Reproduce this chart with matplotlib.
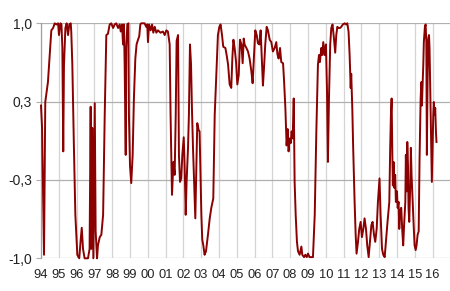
import matplotlib
matplotlib.use("Agg")
import matplotlib.pyplot as plt

# time (decimal years) and correlation values
t = [
    1994.00, 1994.06, 1994.17, 1994.24, 1994.39, 1994.49, 1994.58, 1994.68, 1994.77, 1994.87,
    1994.96, 1995.01, 1995.09, 1995.15, 1995.20, 1995.25, 1995.29, 1995.37, 1995.44, 1995.52,
    1995.59, 1995.67, 1995.70, 1995.76, 1995.85, 1995.93, 1996.04, 1996.15, 1996.22, 1996.29,
    1996.36, 1996.45, 1996.64, 1996.73, 1996.79, 1996.83, 1996.88, 1996.94, 1997.02, 1997.07,
    1997.15, 1997.20, 1997.30, 1997.39, 1997.49, 1997.58, 1997.67, 1997.76, 1997.86, 1997.95,
    1998.05, 1998.14, 1998.23, 1998.33, 1998.42, 1998.48, 1998.55, 1998.61, 1998.66, 1998.70,
    1998.76, 1998.79, 1998.85, 1998.91, 1998.94, 1999.00, 1999.07, 1999.15, 1999.22, 1999.30,
    1999.37, 1999.45, 1999.52, 1999.58, 1999.63, 1999.82, 1999.91, 1999.97, 2000.01, 2000.07,
    2000.16, 2000.24, 2000.31, 2000.39, 2000.48, 2000.57, 2000.72, 2000.85, 2000.95, 2001.04,
    2001.13, 2001.23, 2001.28, 2001.36, 2001.44, 2001.51, 2001.57, 2001.62, 2001.70, 2001.75,
    2001.81, 2001.88, 2001.94, 2002.02, 2002.07, 2002.13, 2002.18, 2002.26, 2002.31, 2002.37,
    2002.43, 2002.48, 2002.54, 2002.60, 2002.67, 2002.73, 2002.78, 2002.86, 2002.91, 2002.97,
    2003.01, 2003.06, 2003.12, 2003.19, 2003.27, 2003.38, 2003.48, 2003.57, 2003.68, 2003.76,
    2003.85, 2003.94, 2004.02, 2004.09, 2004.17, 2004.24, 2004.36, 2004.43, 2004.51, 2004.60,
    2004.69, 2004.75, 2004.81, 2004.88, 2004.96, 2005.03, 2005.11, 2005.18, 2005.26, 2005.33,
    2005.39, 2005.44, 2005.54, 2005.63, 2005.72, 2005.82, 2005.89, 2005.97, 2006.04, 2006.12,
    2006.19, 2006.27, 2006.34, 2006.42, 2006.47, 2006.53, 2006.60, 2006.68, 2006.75, 2006.85,
    2006.94, 2007.03, 2007.13, 2007.22, 2007.28, 2007.35, 2007.43, 2007.50, 2007.60, 2007.65,
    2007.73, 2007.80, 2007.86, 2007.91, 2007.97, 2008.03, 2008.08, 2008.14, 2008.20, 2008.25,
    2008.31, 2008.38, 2008.44, 2008.53, 2008.63, 2008.68, 2008.78, 2008.85, 2008.93, 2009.00,
    2009.09, 2009.28, 2009.38, 2009.47, 2009.56, 2009.62, 2009.67, 2009.75, 2009.80, 2009.86,
    2009.93, 2010.01, 2010.07, 2010.12, 2010.18, 2010.25, 2010.31, 2010.38, 2010.46, 2010.53,
    2010.59, 2010.65, 2010.72, 2010.80, 2010.87, 2010.96, 2011.06, 2011.15, 2011.21, 2011.28,
    2011.34, 2011.40, 2011.43, 2011.49, 2011.54, 2011.62, 2011.68, 2011.73, 2011.81, 2011.88,
    2011.96, 2012.03, 2012.11, 2012.18, 2012.26, 2012.33, 2012.41, 2012.48, 2012.56, 2012.63,
    2012.71, 2012.78, 2012.86, 2012.93, 2013.02, 2013.08, 2013.16, 2013.23, 2013.31, 2013.38,
    2013.47, 2013.57, 2013.62, 2013.66, 2013.70, 2013.74, 2013.77, 2013.81, 2013.85, 2013.90,
    2013.94, 2014.00, 2014.04, 2014.09, 2014.13, 2014.18, 2014.24, 2014.30, 2014.35, 2014.41,
    2014.47, 2014.50, 2014.54, 2014.58, 2014.62, 2014.65, 2014.69, 2014.75, 2014.78, 2014.82,
    2014.88, 2014.93, 2014.99, 2015.05, 2015.10, 2015.16, 2015.22, 2015.27, 2015.33, 2015.37,
    2015.40, 2015.44, 2015.48, 2015.51, 2015.57, 2015.61, 2015.65, 2015.68, 2015.72, 2015.76,
    2015.80, 2015.83, 2015.87, 2015.91, 2015.96, 2016.00, 2016.04, 2016.07, 2016.11, 2016.15,
    2016.19, 2016.22,
]
values = [
    0.30, 0.11, -0.97, 0.33, 0.50, 0.73, 0.94, 0.96, 1.00, 0.99,
    1.00, 0.90, 1.00, 0.99, 0.79, -0.09, 0.64, 0.96, 1.00, 0.90,
    0.99, 1.00, 0.93, 0.65, -0.06, -0.63, -0.97, -1.00, -0.86, -0.74,
    -0.92, -1.00, -1.00, -0.92, 0.29, -0.92, 0.11, -1.00, 0.32, -0.77,
    -1.00, -0.89, -0.82, -0.80, -0.63, 0.22, 0.90, 0.91, 0.99, 1.00,
    0.96, 0.99, 1.00, 0.96, 0.99, 0.93, 0.99, 0.82, 0.99, 0.65,
    -0.12, 0.79, 0.99, 1.00, 0.22, -0.21, -0.36, -0.12, 0.36, 0.70,
    0.82, 0.86, 0.89, 0.99, 1.00, 1.00, 0.97, 0.99, 0.84, 0.99,
    0.94, 0.99, 0.92, 0.97, 0.92, 0.94, 0.92, 0.93, 0.90, 0.94,
    0.93, 0.82, 0.22, -0.46, -0.18, -0.29, 0.22, 0.85, 0.90, -0.12,
    -0.35, -0.32, -0.12, 0.03, -0.21, -0.63, -0.35, -0.06, 0.22, 0.82,
    0.65, 0.28, -0.06, -0.35, -0.66, -0.21, 0.15, 0.09, 0.08, -0.35,
    -0.63, -0.84, -0.89, -0.97, -0.94, -0.80, -0.66, -0.57, -0.49, 0.22,
    0.56, 0.90, 0.97, 0.99, 0.90, 0.80, 0.79, 0.73, 0.65, 0.48,
    0.45, 0.70, 0.86, 0.79, 0.67, 0.48, 0.56, 0.86, 0.82, 0.66,
    0.87, 0.82, 0.79, 0.76, 0.70, 0.59, 0.49, 0.73, 0.94, 0.90,
    0.83, 0.82, 0.94, 0.65, 0.47, 0.62, 0.82, 0.97, 0.94, 0.86,
    0.84, 0.76, 0.79, 0.84, 0.74, 0.70, 0.79, 0.67, 0.66, 0.53,
    0.28, -0.04, 0.10, -0.09, 0.02, -0.02, 0.08, 0.02, 0.36, -0.35,
    -0.63, -0.86, -0.94, -0.97, -0.90, -0.97, -0.99, -0.97, -0.99, -0.96,
    -0.99, -0.99, -0.63, 0.08, 0.65, 0.73, 0.67, 0.79, 0.73, 0.84,
    0.73, 0.82, 0.42, -0.18, 0.36, 0.82, 0.96, 0.99, 0.87, 0.75,
    0.90, 0.97, 0.96, 0.96, 0.97, 0.99, 1.00, 0.99, 1.00, 0.93,
    0.73, 0.45, 0.57, 0.28, -0.06, -0.52, -0.80, -0.96, -0.86, -0.75,
    -0.69, -0.82, -0.75, -0.66, -0.75, -0.89, -0.99, -0.86, -0.72, -0.69,
    -0.80, -0.86, -0.75, -0.52, -0.32, -0.63, -0.92, -0.97, -0.99, -0.86,
    -0.69, -0.52, -0.06, 0.22, 0.36, -0.12, -0.38, -0.18, -0.40, -0.29,
    -0.52, -0.43, -0.57, -0.52, -0.75, -0.60, -0.57, -0.77, -0.89, -0.69,
    -0.52, -0.12, -0.43, -0.01, -0.21, -0.57, -0.69, -0.35, -0.06, -0.29,
    -0.52, -0.69, -0.89, -0.93, -0.89, -0.80, -0.77, -0.15, 0.36, 0.50,
    0.30, 0.47, 0.65, 0.84, 0.97, 0.99, 0.84, -0.12, 0.50, 0.87,
    0.90, 0.79, 0.45, 0.08, -0.35, -0.06, 0.22, 0.33, 0.22, 0.28,
    0.08, -0.01,
]

year_ticks = list(range(1994, 2017))
year_labels = [f"{y % 100:02d}" for y in year_ticks]
y_ticks = [-1.0, -1 / 3, 1 / 3, 1.0]
y_labels = ["-1,0", "-0,3", "0,3", "1,0"]

plt.rcParams["font.family"] = ["Liberation Sans", "DejaVu Sans"]

fig = plt.figure(figsize=(4.5, 2.91), dpi=100)
ax = fig.add_axes([41 / 450, 1 - 258.3 / 291, 409 / 450, 235 / 291])

# year grid (light) and value grid (darker)
for y in year_ticks:
    ax.axvline(y, color="#d4d4d4", lw=0.9, zorder=1)
for v in y_ticks:
    ax.axhline(v, color="#b0b0b0", lw=0.9, zorder=1)

ax.plot(t, values, color="#8b0000", lw=1.4, zorder=3, clip_on=False)

ax.set_xlim(1994, 2016.98)
ax.set_ylim(-1, 1)
ax.set_xticks(year_ticks)
ax.set_xticklabels(year_labels)
ax.set_yticks(y_ticks)
ax.set_yticklabels(y_labels)

ax.tick_params(axis="x", length=0, pad=7.5, labelsize=9.3, labelcolor="#222222")
ax.tick_params(axis="y", length=3.6, width=0.8, color="#b0b0b0", pad=3,
               labelsize=10, labelcolor="#222222")

for side in ["top", "right", "bottom"]:
    ax.spines[side].set_visible(False)
ax.spines["left"].set_color("#a0a0a0")
ax.spines["left"].set_linewidth(0.9)

fig.savefig("out.png", dpi=100)
